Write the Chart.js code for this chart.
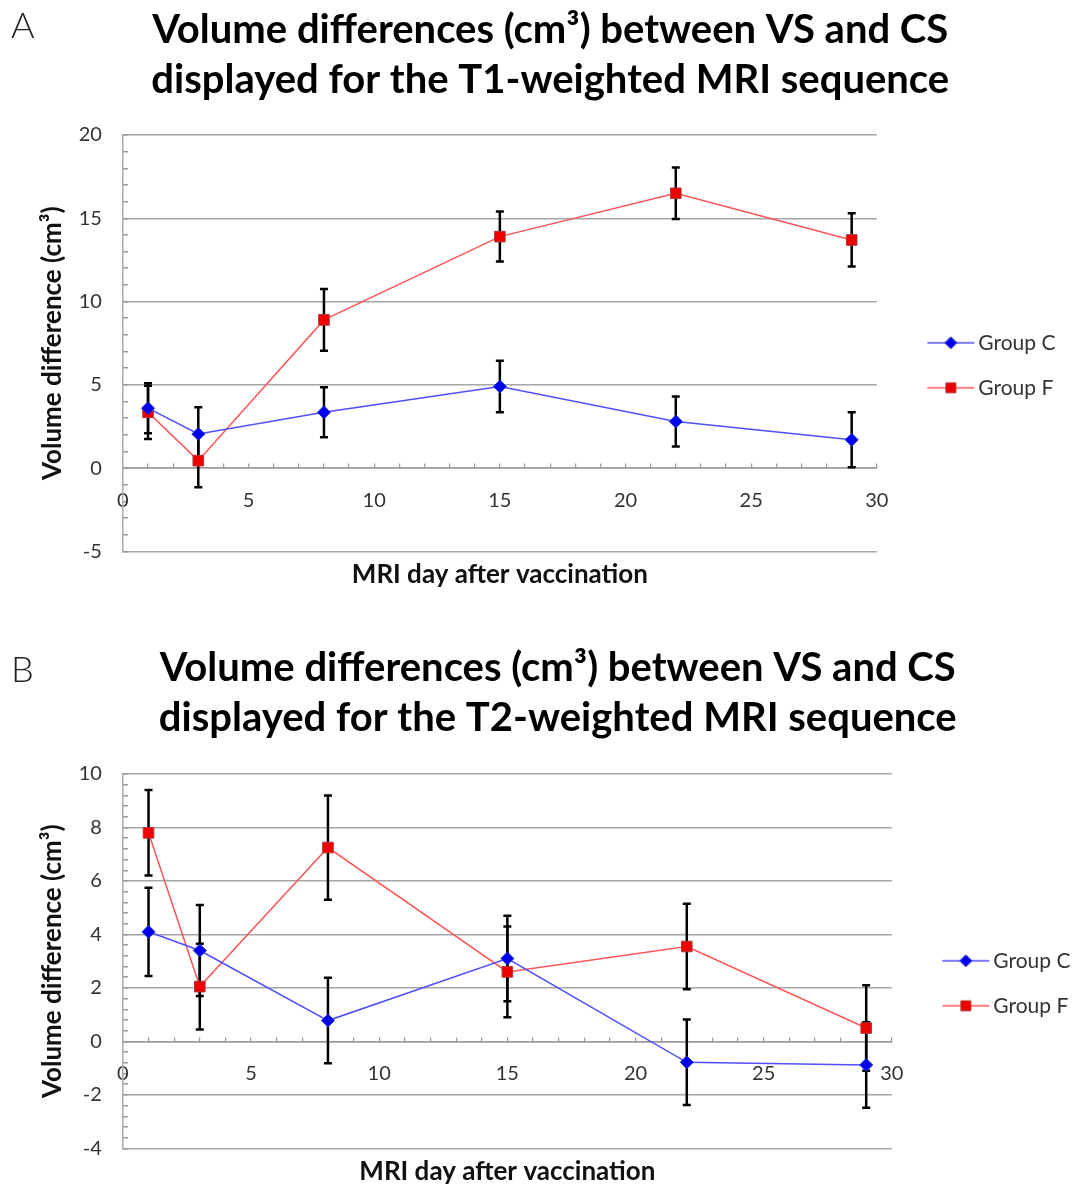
<!DOCTYPE html>
<html lang="en">
<head>
  <meta charset="UTF-8">
  <title>Volume differences between VS and CS</title>
  <script src="https://cdn.jsdelivr.net/npm/chart.js"></script>
  <style>
    body {
      margin: 0;
      background: #fff;
      overflow: hidden;
      font-family: Lato, sans-serif;
    }
    .panel {
      position: absolute;
      left: 0;
    }
    .letter {
      position: absolute;
      left: 11px;
      font-family: Lato, sans-serif;
      font-weight: 300;
      font-size: 36px;
      color: #222;
      line-height: 1;
    }
  </style>
</head>
<body>

<div class="panel" id="panelA" style="top:0; width:1072px; height:594px;">
  <canvas id="chartA"></canvas>
  <div class="letter" style="top:6px;">A</div>
</div>
<div class="panel" id="panelB" style="top:622px; width:1087px; height:569px;">
  <canvas id="chartB"></canvas>
  <div class="letter" style="top:28px;">B</div>
</div>

<script>
  // MRI days after vaccination
  const days = [1, 3, 8, 15, 22, 29];
  const seriesNames = ['Group C', 'Group F'];

  // A: T1-weighted sequence (cm³) and error bar half-widths
  const t1GroupC = [3.6, 2.05, 3.35, 4.9, 2.8, 1.7];
  const t1GroupCErr = [1.5, 1.6, 1.5, 1.55, 1.5, 1.65];
  const t1GroupF = [3.35, 0.45, 8.9, 13.9, 16.5, 13.7];
  const t1GroupFErr = [1.6, 1.6, 1.85, 1.5, 1.55, 1.6];

  // B: T2-weighted sequence
  const t2GroupC = [4.1, 3.4, 0.78, 3.1, -0.78, -0.88];
  const t2GroupCErr = [1.65, 1.7, 1.6, 1.6, 1.6, 1.6];
  const t2GroupF = [7.8, 2.05, 7.25, 2.6, 3.55, 0.5];
  const t2GroupFErr = [1.6, 1.6, 1.95, 1.7, 1.6, 1.6];

  // tick labels
  const xTickLabels = [0, 5, 10, 15, 20, 25, 30];
  const t1YTickLabels = [-5, 0, 5, 10, 15, 20];
  const t2YTickLabels = [-4, -2, 0, 2, 4, 6, 8, 10];

  const blueLine = '#4f4fff', blueFill = '#0000f0', blueEdge = '#2030b0';
  const redLine = '#ff5555', redFill = '#ee0000', redEdge = '#b03838';

  // 5 minor divisions between each labelled tick
  function withMinor(labels) {
    const out = [];
    for (let i = 0; i < labels.length - 1; i++) {
      for (let k = 0; k < 5; k++) {
        out.push(Math.round((labels[i] + (labels[i + 1] - labels[i]) * k / 5) * 1000) / 1000);
      }
    }
    out.push(labels[labels.length - 1]);
    return out;
  }

  // legend swatch: line with the marker in the middle
  function legendIcon(line, fill, edge, shape) {
    const c = document.createElement('canvas');
    c.width = 90;
    c.height = 16;
    const g = c.getContext('2d');
    g.strokeStyle = line;
    g.lineWidth = 1.5;
    g.beginPath();
    g.moveTo(38, 8);
    g.lineTo(85, 8);
    g.stroke();
    g.fillStyle = fill;
    g.strokeStyle = edge;
    g.lineWidth = 1;
    g.beginPath();
    if (shape === 'rectRot') {
      g.moveTo(61.5, 2); g.lineTo(67.5, 8); g.lineTo(61.5, 14); g.lineTo(55.5, 8); g.closePath();
    } else {
      g.rect(56.5, 3, 10, 10);
    }
    g.fill();
    g.stroke();
    return c;
  }

  const errorBars = {
    id: 'errorBars',
    beforeDatasetsDraw(chart) {
      const ctx = chart.ctx;
      const yScale = chart.scales.y;
      ctx.save();
      ctx.strokeStyle = '#000';
      ctx.lineWidth = 2.5;
      chart.data.datasets.forEach((ds, i) => {
        chart.getDatasetMeta(i).data.forEach((pt, j) => {
          const v = ds.data[j].y;
          const e = ds.errors[j];
          const top = yScale.getPixelForValue(v + e);
          const bot = yScale.getPixelForValue(v - e);
          ctx.beginPath();
          ctx.moveTo(pt.x, top); ctx.lineTo(pt.x, bot);
          ctx.moveTo(pt.x - 4, top); ctx.lineTo(pt.x + 4, top);
          ctx.moveTo(pt.x - 4, bot); ctx.lineTo(pt.x + 4, bot);
          ctx.stroke();
        });
      });
      ctx.restore();
    }
  };

  function makeChart(id, titleLines, yLabels, cVals, cErr, fVals, fErr, opts) {
    const yTicks = withMinor(yLabels);
    const xTicks = withMinor(xTickLabels);
    const isLabel = (list, v) => list.includes(Math.round(v * 1000) / 1000);

    return new Chart(document.getElementById(id), {
      type: 'line',
      data: {
        datasets: [{
          label: seriesNames[0],
          data: days.map((d, i) => ({x: d, y: cVals[i]})),
          errors: cErr,
          legendIcon: legendIcon(blueLine, blueFill, blueEdge, 'rectRot'),
          borderColor: blueLine,
          borderWidth: 1.5,
          pointStyle: 'rectRot',
          pointRadius: 6.5,
          pointBackgroundColor: blueFill,
          pointBorderColor: blueEdge,
          pointBorderWidth: 1,
          tension: 0
        }, {
          label: seriesNames[1],
          data: days.map((d, i) => ({x: d, y: fVals[i]})),
          errors: fErr,
          legendIcon: legendIcon(redLine, redFill, redEdge, 'rect'),
          borderColor: redLine,
          borderWidth: 1.5,
          pointStyle: 'rect',
          pointRadius: 7.5,
          pointBackgroundColor: redFill,
          pointBorderColor: redEdge,
          pointBorderWidth: 1,
          tension: 0
        }]
      },
      options: {
        responsive: true,
        maintainAspectRatio: false,
        animation: false,
        layout: {padding: {left: 35, right: 6.5, top: 0, bottom: 0}},
        scales: {
          x: {
            type: 'linear',
            position: {y: 0},
            min: 0,
            max: 30,
            afterBuildTicks: s => { s.ticks = xTicks.map(v => ({value: v})); },
            ticks: {
              autoSkip: false,
              maxRotation: 0,
              padding: 25,
              font: {family: 'Lato', size: 20},
              color: '#333',
              callback: v => isLabel(xTickLabels, v) ? String(v) : ''
            },
            grid: {drawOnChartArea: false, tickLength: -5, tickColor: '#999', lineWidth: 1.2},
            border: {color: '#999', width: 1.5}
          },
          x2: {
            type: 'linear',
            position: 'bottom',
            min: 0,
            max: 30,
            ticks: {display: false},
            grid: {display: false, drawTicks: false},
            border: {display: false},
            title: {
              display: true,
              text: 'MRI day after vaccination',
              font: {family: 'Lato', size: 26, weight: 'bold'},
              color: '#111',
              padding: {top: 7.4, bottom: 4}
            }
          },
          y: {
            min: yLabels[0],
            max: yLabels[yLabels.length - 1],
            afterBuildTicks: s => { s.ticks = yTicks.map(v => ({value: v})); },
            ticks: {
              autoSkip: false,
              padding: 26,
              font: {family: 'Lato', size: 20},
              color: '#333',
              callback: v => isLabel(yLabels, v) ? String(v) : ''
            },
            grid: {
              color: c => isLabel(yLabels, c.tick.value) ? '#a6a6a6' : 'rgba(0,0,0,0)',
              tickColor: '#999',
              tickLength: -5,
              lineWidth: 1.5
            },
            border: {color: '#aaa', width: 1.5},
            title: {
              display: true,
              text: 'Volume difference (cm³)',
              font: {family: 'Lato', size: 26, weight: 'bold'},
              color: '#111',
              padding: {top: 2, bottom: -15.5}
            }
          }
        },
        plugins: {
          title: {
            display: true,
            text: titleLines,
            font: {family: 'Lato', size: 40, weight: 'bold', lineHeight: 1.25},
            color: '#000',
            padding: {top: opts.titleTop, bottom: opts.titleBottom}
          },
          legend: {
            position: 'right',
            fullSize: false,
            title: {display: true, text: ' ', font: {size: 1}, padding: {top: 43, bottom: 0}},
            labels: {
              usePointStyle: true,
              pointStyleWidth: 67,
              padding: 24,
              font: {family: 'Lato', size: 21},
              color: '#333',
              generateLabels: chart => chart.data.datasets.map((ds, i) => ({
                text: ds.label,
                pointStyle: ds.legendIcon,
                datasetIndex: i,
                hidden: false,
                lineWidth: 0,
                fontColor: '#333'
              }))
            }
          },
          tooltip: {enabled: false}
        }
      },
      plugins: [errorBars]
    });
  }

  makeChart('chartA',
    ['Volume differences (cm³) between VS and CS', 'displayed for the T1-weighted MRI sequence'],
    t1YTickLabels, t1GroupC, t1GroupCErr, t1GroupF, t1GroupFErr,
    {titleTop: 5, titleBottom: 30});

  makeChart('chartB',
    ['Volume differences (cm³) between VS and CS', 'displayed for the T2-weighted MRI sequence'],
    t2YTickLabels, t2GroupC, t2GroupCErr, t2GroupF, t2GroupFErr,
    {titleTop: 21, titleBottom: 31});
</script>

</body>
</html>
